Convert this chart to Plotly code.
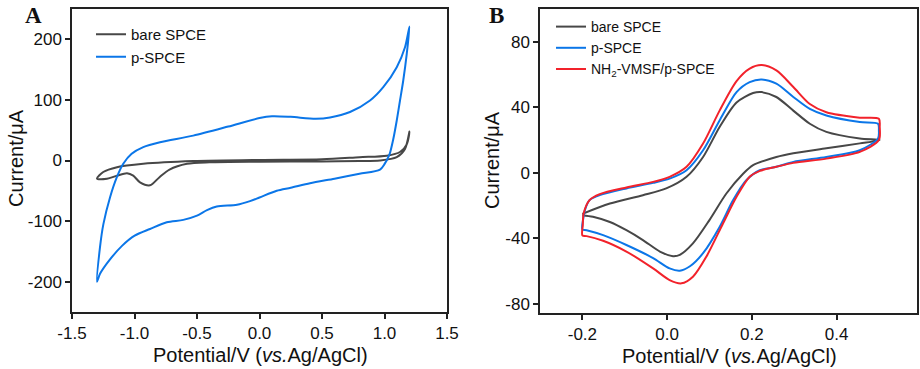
import plotly.graph_objects as go

# ---- Panel A data (CV, potential V vs current uA) ----
a_bare_x = [-1.3, -1.25, -1.14, -0.93, -0.53, 0.0, 0.5, 0.8, 1.018, 1.124, 1.18, 1.2,
            1.164, 1.098, 0.964, 0.8, 0.5, 0.0, -0.4, -0.58, -0.72, -0.8, -0.876, -0.956, -1.01, -1.06, -1.14, -1.22, -1.3]
a_bare_y = [-30, -19, -11, -5.5, -1, 1, 2, 5.5, 8, 14, 27.5, 48,
            19, 5.5, 0, -1, -1.5, -2, -3, -5.5, -15, -27.5, -41, -36, -25, -21, -25, -30, -30]

a_p_x = [-1.3, -1.276, -1.249, -1.196, -1.142, -1.09, -1.023, -0.93, -0.796, -0.53, -0.25, 0.0, 0.1, 0.25, 0.45,
         0.564, 0.724, 0.884, 0.99, 1.098, 1.164, 1.2,
         1.178, 1.15, 1.124, 1.098, 1.07, 1.04, 1.0, 0.964, 0.8, 0.6, 0.404, 0.25, 0.138, 0.0, -0.076, -0.18, -0.342, -0.42, -0.5,
         -0.61, -0.742, -0.876, -0.999, -1.098, -1.199, -1.276, -1.3]
a_p_y = [-200, -143, -105, -61, -28, -5.5, 11, 22, 30, 41, 56, 70, 73, 72, 69,
         71, 80, 99, 121, 154, 187, 221,
         176, 132, 99, 66, 35, 10, -6, -15, -22, -30, -37.5, -45, -50, -61, -67, -73, -76, -82, -91,
         -98, -102, -113, -124, -140.5, -164, -187, -200]

# ---- Panel B data ----
b_bare_x = [-0.2, -0.135, -0.057, -0.002, 0.046, 0.085, 0.124, 0.164, 0.203, 0.223, 0.258, 0.298, 0.337, 0.376, 0.455, 0.502,
            0.455, 0.376, 0.298, 0.258, 0.203, 0.18, 0.14, 0.1, 0.061, 0.03, 0.014, -0.017, -0.057, -0.096, -0.135, -0.175, -0.2]
b_bare_y = [-25, -18.7, -13.6, -9.5, -2.4, 9.7, 28, 43, 48.7, 49.3, 46.3, 38, 30, 25, 21, 20,
            18, 15, 12, 9.7, 4.7, -0.4, -12.6, -28.8, -43, -50, -50.8, -48, -41, -35, -30, -26.8, -25.8]

b_p_x = [-0.2, -0.198, -0.194, -0.183, -0.159, -0.096, -0.033, 0.006, 0.046, 0.085, 0.124, 0.164, 0.195, 0.223, 0.258, 0.298,
         0.337, 0.376, 0.455, 0.498, 0.5, 0.498,
         0.455, 0.376, 0.298, 0.258, 0.219, 0.187, 0.156, 0.124, 0.085, 0.054, 0.03, 0.006, -0.033, -0.096, -0.151, -0.19, -0.2]
b_p_y = [-34.5, -28, -22.7, -16.6, -13.6, -9.5, -6.1, -3.5, 1.6, 13.8, 32, 49.3, 55.4, 57, 54.4, 46.3,
         39, 35, 31, 30, 26, 21,
         13.8, 9.7, 6.7, 3.7, 1.6, -4.5, -16.6, -33, -49, -57, -59.7, -58.3, -52, -44, -38, -35, -34.5]

b_n_x = [-0.2, -0.199, -0.197, -0.183, -0.159, -0.096, -0.033, 0.006, 0.046, 0.085, 0.124, 0.164, 0.195, 0.223, 0.258, 0.298,
         0.337, 0.376, 0.455, 0.5, 0.502, 0.5,
         0.455, 0.376, 0.298, 0.258, 0.219, 0.195, 0.164, 0.132, 0.093, 0.061, 0.034, 0.006, -0.033, -0.096, -0.151, -0.19, -0.2]
b_n_y = [-38.2, -32, -24.8, -16.6, -13, -8.9, -5.5, -2.4, 3.7, 17.9, 38, 56, 63.6, 65.8, 62.5, 52.4,
         42, 37, 33.7, 33, 28, 20,
         12.8, 8.7, 6.1, 3.7, 1.2, -2.4, -14.6, -30.9, -51, -63.4, -67.4, -65.4, -58.3, -48, -41.4, -38.6, -38.2]

# ---- Tick labels ----
a_xticks = [-1.5, -1.0, -0.5, 0.0, 0.5, 1.0, 1.5]
a_xticktext = ["-1.5", "-1.0", "-0.5", "0.0", "0.5", "1.0", "1.5"]
a_yticks = [-200, -100, 0, 100, 200]
a_yticktext = ["-200", "-100", "0", "100", "200"]
b_xticks = [-0.2, 0.0, 0.2, 0.4]
b_xticktext = ["-0.2", "0.0", "0.2", "0.4"]
b_yticks = [-80, -40, 0, 40, 80]
b_yticktext = ["-80", "-40", "0", "40", "80"]

GRAY = "#474747"
BLUE = "#0b76e8"
RED = "#f2222b"
FONT = "Liberation Sans, Arial, sans-serif"
SERIF = "Liberation Serif, Times New Roman, serif"
W, H = 920, 369

fig = go.Figure()
lw = 2
fig.add_trace(go.Scatter(x=a_bare_x, y=a_bare_y, mode="lines", name="bare SPCE",
                         line=dict(color=GRAY, width=lw, shape="spline", smoothing=0.8),
                         xaxis="x", yaxis="y", legend="legend"))
fig.add_trace(go.Scatter(x=a_p_x, y=a_p_y, mode="lines", name="p-SPCE",
                         line=dict(color=BLUE, width=lw, shape="spline", smoothing=0.8),
                         xaxis="x", yaxis="y", legend="legend"))
fig.add_trace(go.Scatter(x=b_bare_x, y=b_bare_y, mode="lines", name="bare SPCE",
                         line=dict(color=GRAY, width=lw, shape="spline", smoothing=0.8),
                         xaxis="x2", yaxis="y2", legend="legend2"))
fig.add_trace(go.Scatter(x=b_p_x, y=b_p_y, mode="lines", name="p-SPCE",
                         line=dict(color=BLUE, width=lw, shape="spline", smoothing=0.8),
                         xaxis="x2", yaxis="y2", legend="legend2"))
fig.add_trace(go.Scatter(x=b_n_x, y=b_n_y, mode="lines", name="NH<sub>2</sub>-VMSF/p-SPCE",
                         line=dict(color=RED, width=lw, shape="spline", smoothing=0.8),
                         xaxis="x2", yaxis="y2", legend="legend2"))

ax_common = dict(showline=True, mirror=True, linecolor="#222", linewidth=1.5, ticks="outside",
                 ticklen=5, tickwidth=1.5, tickcolor="#222", showgrid=False, zeroline=False,
                 automargin=False, tickmode="array",
                 tickfont=dict(family=FONT, size=17, color="#111"))

def px(xp):
    return xp / W

def py(yp):
    return 1 - yp / H

fig.update_layout(
    width=W, height=H, margin=dict(l=0, r=0, t=0, b=0, autoexpand=False),
    paper_bgcolor="white", plot_bgcolor="white", font=dict(family=FONT, color="#111"),
    xaxis=dict(domain=[px(72), px(447)], range=[-1.5, 1.5], tickvals=a_xticks, ticktext=a_xticktext, anchor="y", **ax_common),
    yaxis=dict(domain=[py(312), py(9)], range=[-250, 250], tickvals=a_yticks, ticktext=a_yticktext, anchor="x", **ax_common),
    xaxis2=dict(domain=[px(540), px(917)], range=[-0.3, 0.59], tickvals=b_xticks, ticktext=b_xticktext, anchor="y2", **ax_common),
    yaxis2=dict(domain=[py(313), py(9)], range=[-85.5, 100], tickvals=b_yticks, ticktext=b_yticktext, anchor="x2", **ax_common),
    legend=dict(x=px(91), y=py(18), xanchor="left", yanchor="top", xref="paper", yref="paper",
                bgcolor="rgba(0,0,0,0)", font=dict(family=FONT, size=15, color="#111"),
                tracegroupgap=0, itemwidth=30),
    legend2=dict(x=px(551), y=py(11), xanchor="left", yanchor="top", xref="paper", yref="paper",
                 bgcolor="rgba(0,0,0,0)", font=dict(family=FONT, size=14, color="#111"),
                 tracegroupgap=0, itemwidth=30),
    annotations=[
        dict(text="<b>A</b>", x=px(33), y=py(15), xanchor="center", yanchor="middle", xref="paper", yref="paper",
             showarrow=False, font=dict(family=SERIF, size=23, color="#111")),
        dict(text="<b>B</b>", x=px(496), y=py(15), xanchor="center", yanchor="middle", xref="paper", yref="paper",
             showarrow=False, font=dict(family=SERIF, size=23, color="#111")),
        dict(text="Current/μA", x=px(16), y=py(158), xanchor="center", yanchor="middle", xref="paper", yref="paper",
             showarrow=False, textangle=-90, font=dict(family=FONT, size=20, color="#111")),
        dict(text="Current/μA", x=px(492), y=py(160), xanchor="center", yanchor="middle", xref="paper", yref="paper",
             showarrow=False, textangle=-90, font=dict(family=FONT, size=20, color="#111")),
        dict(text="Potential/V (<i>vs.</i>Ag/AgCl)", x=px(260), y=py(355), xanchor="center", yanchor="middle",
             xref="paper", yref="paper", showarrow=False, font=dict(family=FONT, size=20, color="#111")),
        dict(text="Potential/V (<i>vs.</i>Ag/AgCl)", x=px(729), y=py(356), xanchor="center", yanchor="middle",
             xref="paper", yref="paper", showarrow=False, font=dict(family=FONT, size=20, color="#111")),
    ],
)

post = ("document.documentElement.style.margin='0';document.documentElement.style.overflow='hidden';"
        "document.body.style.margin='0';document.body.style.padding='0';document.body.style.overflow='hidden';"
        "var gd=document.getElementById('{plot_id}');Plotly.relayout(gd,{width:920,height:369});")

fig.write_html("out.html", config={"responsive": False, "displayModeBar": False}, post_script=post)
